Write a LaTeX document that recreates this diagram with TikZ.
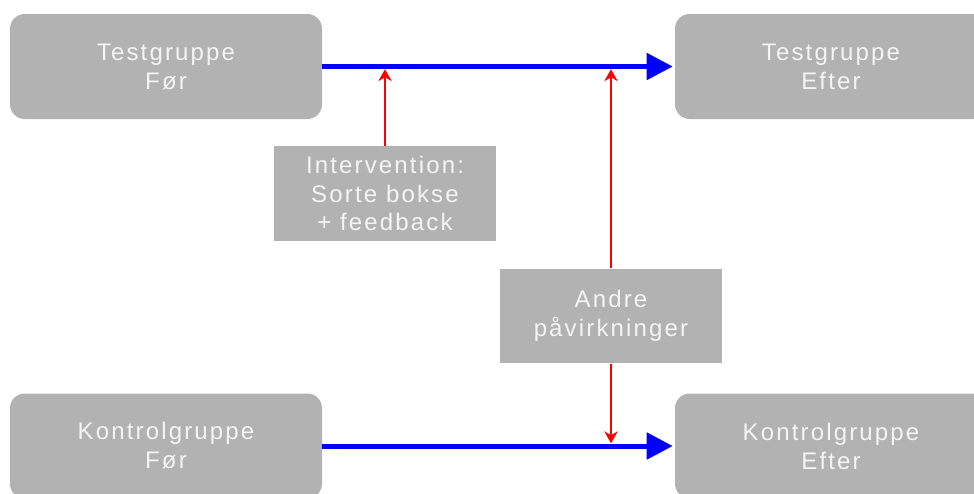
\documentclass[tikz,border=0pt]{standalone}
\usepackage{fontspec}
\newfontfamily\boxfont{Liberation Sans}[LetterSpace=9]
\usepackage{tikz}
\usetikzlibrary{arrows.meta}
\definecolor{boxgray}{HTML}{B2B2B2}
\definecolor{boxtext}{HTML}{F4F4F4}

\begin{document}
\begin{tikzpicture}[x=0.75pt,y=-0.75pt]
\tikzset{
	group node/.style = {rectangle, rounded corners = 11pt, fill = boxgray, text = boxtext, inner sep = 0,
		minimum width = 234pt, minimum height = 78.75pt, align = center, font = \boxfont\fontsize{18}{21.75}\selectfont},
	effect node/.style = {rectangle, fill = boxgray, text = boxtext, inner sep = 0,
		minimum width = 167pt, minimum height = 71pt, align = center, font = \boxfont\fontsize{18}{21.5}\selectfont},
	main arrow/.style = {draw = blue, line width = 3.75pt, -{Triangle[length=19.5pt, width=19.5pt]}, shorten > = 1.5pt},
	side arrow/.style = {draw = red, line width = 1.1pt, -{Stealth[length=9pt, width=10pt]}, shorten > = 2pt},
}
\clip (0,0) rectangle (974,493);

\node (tfoer)  [group node] at (166,66.5)  {Testgruppe\\Før};
\node (tefter) [group node] at (831,66.5)  {Testgruppe\\Efter};
\node (kfoer)  [group node] at (166,446)   {Kontrolgruppe\\Før};
\node (kefter) [group node] at (831,446)   {Kontrolgruppe\\Efter};

\node (interv) [effect node] at (385,193.5) {Intervention:\\Sorte bokse\\+ feedback};
\node (andre)  [effect node] at (611,316) {Andre\\påvirkninger};

\draw [main arrow] (tfoer) -- (tefter);
\draw [main arrow] (kfoer) -- (kefter);

\draw [side arrow] (interv) -- (interv |- tfoer);
\draw [side arrow] (andre) -- (andre |- tefter);
\draw [side arrow] (andre) -- (andre |- kefter);

\end{tikzpicture}
\end{document}
